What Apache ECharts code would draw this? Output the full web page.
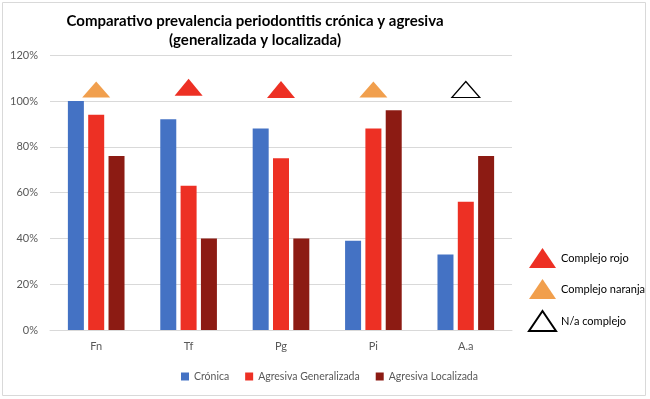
<!DOCTYPE html>
<html>
<head>
<meta charset="utf-8">
<script src="https://cdn.jsdelivr.net/npm/echarts@6/dist/echarts.min.js"></script>
<style>
html,body{margin:0;padding:0;background:#fff;}
#chart{width:650px;height:399px;}
</style>
</head>
<body>
<div id="chart"></div>
<script>
var categories = ['Fn', 'Tf', 'Pg', 'Pi', 'A.a'];
var cronica = [100, 92, 88, 39, 33];          //Crónica
var generalizada = [94, 63, 75, 88, 56];      //Agresiva Generalizada
var localizada = [76, 40, 40, 96, 76];        //Agresiva Localizada
var complejo = ['naranja', 'rojo', 'rojo', 'naranja', 'na']; //tipo de complejo por bacteria
var markerValues = [105, 106, 105, 105, 105]; //altura del triangulo
var yTicks = [0, 20, 40, 60, 80, 100, 120];

var myChart = echarts.init(document.getElementById('chart'));

/*triangulos por complejo*/
var pick = function(tipo) {
	var out = [];
	for (var i = 0; i < categories.length; i++) {
		out.push(complejo[i] == tipo ? markerValues[i] : null);
	}
	return out;
};

var font = "Lato, 'Open Sans', sans-serif";

var option = {
	animation : false,
	title : {
		text : 'Comparativo prevalencia periodontitis crónica y agresiva\n(generalizada y localizada)',
		left : 250,
		top : 7,
		textAlign : 'center',
		textStyle : {
			fontFamily : font,
			fontSize : 15,
			fontWeight : 'bold',
			color : '#000',
			lineHeight : 19,
			align : 'center'
		}
	},
	legend : [
		{
			bottom : 12,
			left : 176,
			itemWidth : 8,
			itemHeight : 8,
			itemGap : 16,
			icon : 'rect',
			textStyle : { fontFamily : font, fontSize : 10.5, color : '#595959' },
			data : ['Crónica', 'Agresiva Generalizada', 'Agresiva Localizada']
		},
		{
			orient : 'vertical',
			left : 523,
			top : 243,
			itemWidth : 27,
			itemHeight : 20,
			itemGap : 11,
			icon : 'triangle',
			textStyle : { fontFamily : font, fontSize : 11, color : '#000' },
			data : ['Complejo rojo', 'Complejo naranja', 'N/a complejo']
		}
	],
	grid : {
		left : 50,
		right : 138,
		top : 330 - 274.8,
		bottom : 69
	},
	xAxis : {
		type : 'category',
		data : categories,
		axisLine : { show : true, lineStyle : { color : '#d9d9d9' } },
		axisTick : { show : false },
		axisLabel : { fontFamily : font, fontSize : 11, color : '#595959', margin : 11 }
	},
	yAxis : {
		type : 'value',
		min : yTicks[0],
		max : yTicks[yTicks.length - 1],
		interval : 20,
		axisLine : { show : false },
		axisTick : { show : false },
		splitLine : { lineStyle : { color : '#d9d9d9' } },
		axisLabel : {
			fontFamily : font, fontSize : 11, color : '#595959', margin : 12,
			formatter : '{value}%'
		}
	},
	series : [
		{
			name : 'Crónica', type : 'bar', data : cronica,
			barWidth : 16, barGap : '27%',
			itemStyle : { color : '#4472c4' }
		},
		{
			name : 'Agresiva Generalizada', type : 'bar', data : generalizada,
			barWidth : 16, barGap : '27%',
			itemStyle : { color : '#ed3024' }
		},
		{
			name : 'Agresiva Localizada', type : 'bar', data : localizada,
			barWidth : 16, barGap : '27%',
			itemStyle : { color : '#8c1b13' }
		},
		{
			name : 'Complejo rojo', type : 'scatter', data : pick('rojo'),
			symbol : 'triangle', symbolSize : [28, 17],
			itemStyle : { color : '#ed3024', opacity : 1 }
		},
		{
			name : 'Complejo naranja', type : 'scatter', data : pick('naranja'),
			symbol : 'triangle', symbolSize : [28, 16],
			itemStyle : { color : '#f19f4d', opacity : 1 }
		},
		{
			name : 'N/a complejo', type : 'scatter', data : pick('na'),
			symbol : 'triangle', symbolSize : [28, 16],
			itemStyle : { color : '#ffffff', borderColor : '#000', borderWidth : 1.2, opacity : 1 }
		}
	],
	graphic : [
		{
			type : 'rect',
			shape : { x : 2.5, y : 2.5, width : 643, height : 393 },
			style : { fill : null, stroke : '#d9d9d9', lineWidth : 1 },
			silent : true
		}
	]
};

myChart.setOption(option);
</script>
</body>
</html>
